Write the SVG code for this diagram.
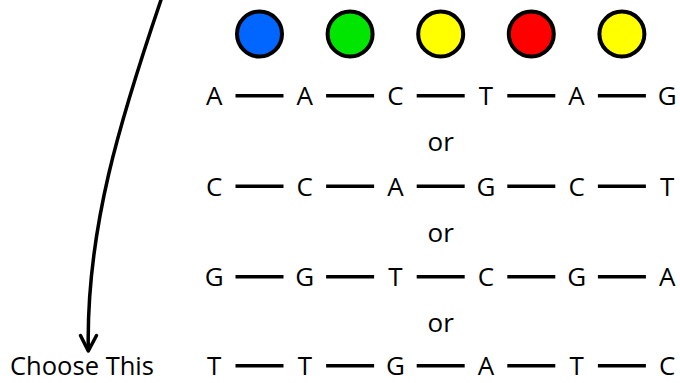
<svg xmlns="http://www.w3.org/2000/svg" width="680" height="383" viewBox="0 0 680 383">
  <style>
    text { font-family: "Open Sans", "Liberation Sans", Arial, sans-serif; font-size: 26px; fill: #000; }
    .base { text-anchor: middle; }
    .or { text-anchor: middle; }
    .bead { stroke: #000; stroke-width: 4; }
    .bond { stroke: #000; stroke-width: 3.5; }
    .pointer { fill: none; stroke: #000; stroke-width: 3.5; stroke-linecap: round; stroke-linejoin: round; }
  </style>
  <rect width="680" height="383" fill="#fff"/>

  <!-- coloured beads -->
  <g id="beads">
    <circle id="bead-blue" class="bead" cx="259.5" cy="34" r="22.5" fill="#0066ff"/>
    <circle id="bead-green" class="bead" cx="350.1" cy="34" r="22.5" fill="#00e600"/>
    <circle id="bead-yellow-1" class="bead" cx="440.7" cy="34" r="22.5" fill="#ffff00"/>
    <circle id="bead-red" class="bead" cx="531.3" cy="34" r="22.5" fill="#ff0000"/>
    <circle id="bead-yellow-2" class="bead" cx="621.9" cy="34" r="22.5" fill="#ffff00"/>
  </g>

  <!-- bonds between bases, one row per sequence -->
  <g id="connectors">
    <g id="bonds-1" transform="translate(0,95.7)">
      <line class="bond" x1="235.5" y1="0" x2="283.5" y2="0"/>
      <line class="bond" x1="326.1" y1="0" x2="374.1" y2="0"/>
      <line class="bond" x1="416.7" y1="0" x2="464.7" y2="0"/>
      <line class="bond" x1="507.3" y1="0" x2="555.3" y2="0"/>
      <line class="bond" x1="597.9" y1="0" x2="645.9" y2="0"/>
    </g>
    <g id="bonds-2" transform="translate(0,186.2)">
      <line class="bond" x1="235.5" y1="0" x2="283.5" y2="0"/>
      <line class="bond" x1="326.1" y1="0" x2="374.1" y2="0"/>
      <line class="bond" x1="416.7" y1="0" x2="464.7" y2="0"/>
      <line class="bond" x1="507.3" y1="0" x2="555.3" y2="0"/>
      <line class="bond" x1="597.9" y1="0" x2="645.9" y2="0"/>
    </g>
    <g id="bonds-3" transform="translate(0,276.7)">
      <line class="bond" x1="235.5" y1="0" x2="283.5" y2="0"/>
      <line class="bond" x1="326.1" y1="0" x2="374.1" y2="0"/>
      <line class="bond" x1="416.7" y1="0" x2="464.7" y2="0"/>
      <line class="bond" x1="507.3" y1="0" x2="555.3" y2="0"/>
      <line class="bond" x1="597.9" y1="0" x2="645.9" y2="0"/>
    </g>
    <g id="bonds-4" transform="translate(0,365.7)">
      <line class="bond" x1="235.5" y1="0" x2="283.5" y2="0"/>
      <line class="bond" x1="326.1" y1="0" x2="374.1" y2="0"/>
      <line class="bond" x1="416.7" y1="0" x2="464.7" y2="0"/>
      <line class="bond" x1="507.3" y1="0" x2="555.3" y2="0"/>
      <line class="bond" x1="597.9" y1="0" x2="645.9" y2="0"/>
    </g>
    <!-- curved pointer to the chosen sequence -->
    <g id="pointer">
      <path class="pointer" d="M 163,-6 C 120,120 86,230 88.3,350"/>
      <polyline class="pointer" points="80.5,335.5 88.3,351 96.5,335.5"/>
    </g>
  </g>

  <!-- sequences -->
  <g id="seq-1">
    <text class="base" x="214.2" y="105">A</text>
    <text class="base" x="304.8" y="105">A</text>
    <text class="base" x="395.4" y="105">C</text>
    <text class="base" x="486" y="105">T</text>
    <text class="base" x="576.6" y="105">A</text>
    <text class="base" x="667.2" y="105">G</text>
  </g>
  <g id="or-1"><text class="or" x="440.7" y="151">or</text></g>
  <g id="seq-2">
    <text class="base" x="214.2" y="195.5">C</text>
    <text class="base" x="304.8" y="195.5">C</text>
    <text class="base" x="395.4" y="195.5">A</text>
    <text class="base" x="486" y="195.5">G</text>
    <text class="base" x="576.6" y="195.5">C</text>
    <text class="base" x="667.2" y="195.5">T</text>
  </g>
  <g id="or-2"><text class="or" x="440.7" y="241.5">or</text></g>
  <g id="seq-3">
    <text class="base" x="214.2" y="286">G</text>
    <text class="base" x="304.8" y="286">G</text>
    <text class="base" x="395.4" y="286">T</text>
    <text class="base" x="486" y="286">C</text>
    <text class="base" x="576.6" y="286">G</text>
    <text class="base" x="667.2" y="286">A</text>
  </g>
  <g id="or-3"><text class="or" x="440.7" y="331.5">or</text></g>
  <g id="seq-4">
    <text class="base" x="214.2" y="375">T</text>
    <text class="base" x="304.8" y="375">T</text>
    <text class="base" x="395.4" y="375">G</text>
    <text class="base" x="486" y="375">A</text>
    <text class="base" x="576.6" y="375">T</text>
    <text class="base" x="667.2" y="375">C</text>
  </g>
  <g id="choose-label"><text x="10" y="375" textLength="144" lengthAdjust="spacingAndGlyphs">Choose This</text></g>
</svg>
